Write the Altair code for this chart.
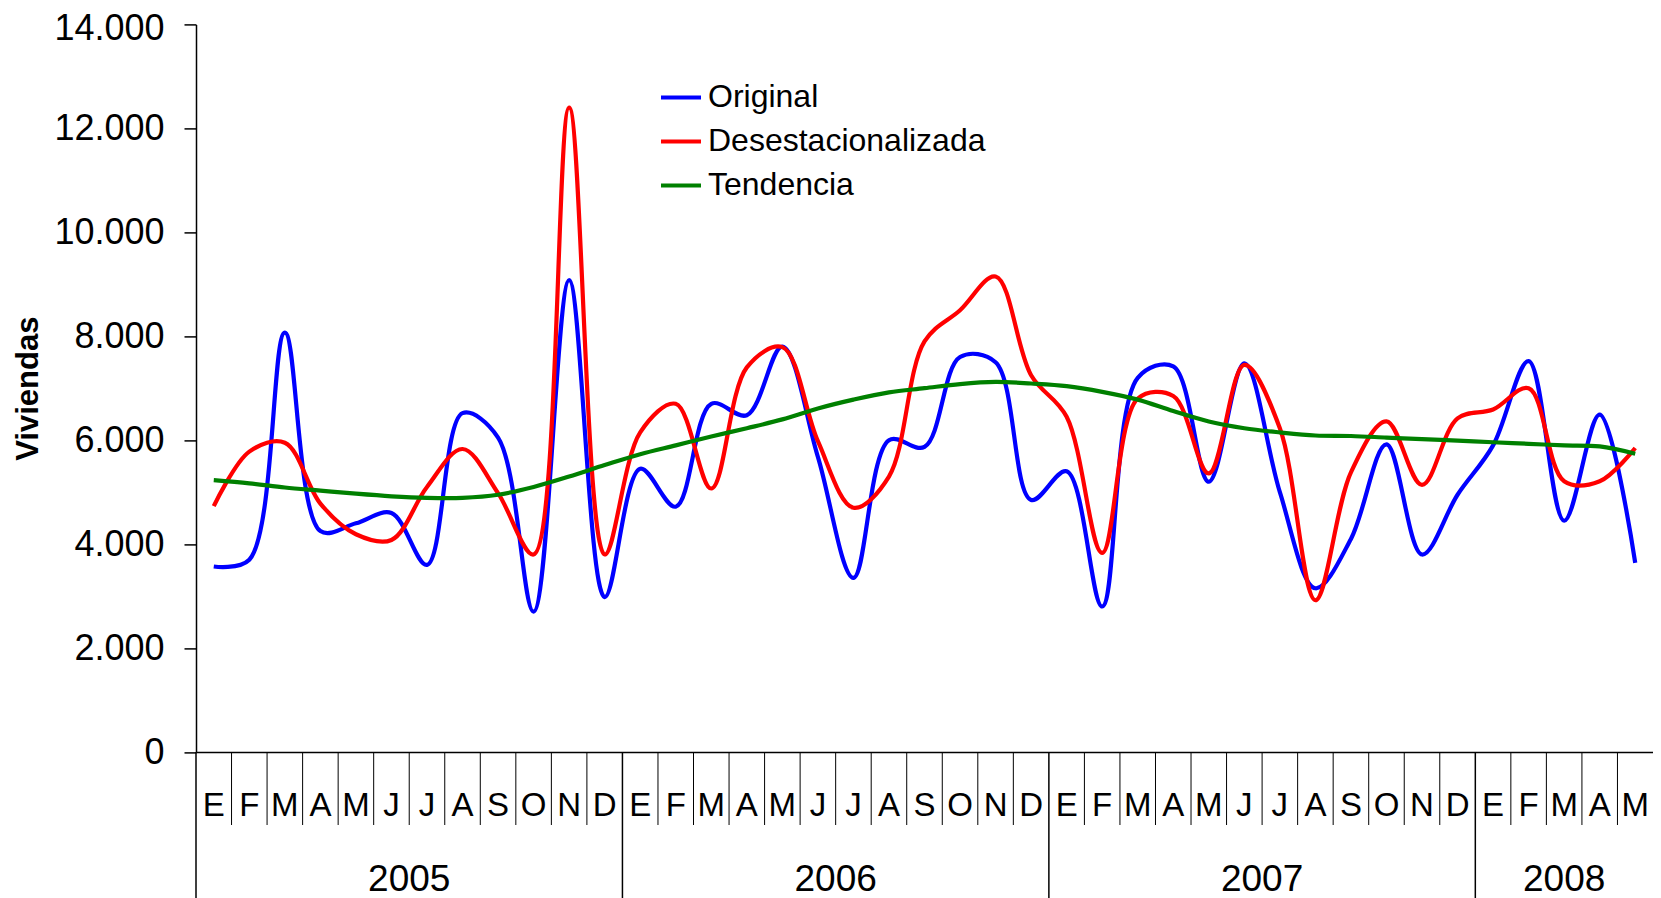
import altair as alt
import pandas as pd

# ---- data ----
months = ['E', 'F', 'M', 'A', 'M', 'J', 'J', 'A', 'S', 'O', 'N', 'D'] * 3 + ['E', 'F', 'M', 'A', 'M']
years = ['2005', '2006', '2007', '2008']
year_start = [0, 12, 24, 36]
year_end = [12, 24, 36, 41]

series_names = ['Original', 'Desestacionalizada', 'Tendencia']
series_colors = ['#0000FF', '#FF0000', '#008000']

original = [3570, 3700, 8070, 4250, 4400, 4600, 3600, 6520, 6050, 2700, 9080, 2980,
            5450, 4720, 6700, 6480, 7800, 5680, 3350, 6000, 5870, 7600, 7500, 4850,
            5400, 2800, 7200, 7420, 5200, 7480, 5000, 3150, 4100, 5920, 3800, 4950,
            5900, 7520, 4450, 6490, 3640]
desest = [4730, 5780, 5950, 4780, 4190, 4080, 5100, 5830, 4980, 3800, 12400, 3800,
          6150, 6700, 5070, 7400, 7790, 5980, 4700, 5300, 7900, 8500, 9150, 7250,
          6450, 3830, 6800, 6850, 5360, 7450, 6230, 2920, 5380, 6360, 5140, 6420,
          6590, 7000, 5210, 5210, 5850]
tendencia = [5230, 5170, 5090, 5030, 4970, 4920, 4890, 4890, 4950, 5100, 5300, 5520,
             5730, 5900, 6070, 6230, 6400, 6610, 6780, 6920, 7000, 7080, 7120, 7090,
             7040, 6930, 6780, 6560, 6360, 6230, 6150, 6090, 6080, 6050, 6020, 5990,
             5960, 5930, 5900, 5880, 5740]

y_ticks = [0, 2000, 4000, 6000, 8000, 10000, 12000, 14000]

# ---- tables ----
n = len(months)
rows = []
for name, vals in zip(series_names, [original, desest, tendencia]):
    for i, v in enumerate(vals):
        rows.append({'pos': i + 0.5, 'serie': name, 'valor': v})
line_df = pd.DataFrame(rows)

month_df = pd.DataFrame({'pos': [i + 0.5 for i in range(n)], 'label': months})
msep_df = pd.DataFrame({'pos': [k for k in range(1, n) if k not in year_start]})
ysep_df = pd.DataFrame({'pos': year_start})
year_df = pd.DataFrame({'pos': [(a + b) / 2 for a, b in zip(year_start, year_end)], 'label': years})

# ---- layout ----
W = 1457
H = 727.6
BOTTOM = 154
FONT = 'Liberation Sans, Arial, sans-serif'

x_scale = alt.Scale(domain=[0, n], nice=False, zero=False)
x_axis = alt.Axis(labels=False, ticks=False, grid=False, domainColor='black',
                  domainWidth=1.5, title=None)
y_axis = alt.Axis(values=y_ticks,
                  labelExpr="replace(format(datum.value, ','), ',', '.')",
                  labelFont=FONT, labelFontSize=36, labelColor='black', labelPadding=20,
                  labelOffset={'condition': {'test': 'datum.value == 14000', 'value': 4},
                               'value': 0},
                  tickSize=12, tickColor='black', tickWidth=1.5,
                  domainColor='black', domainWidth=1.5, grid=False,
                  title='Viviendas', titleFont=FONT, titleFontSize=31,
                  titleFontWeight='bold', titleColor='black',
                  titleX=-168, titleY=H / 2, titleAngle=270,
                  titleAlign='center', titleBaseline='middle')
legend = alt.Legend(orient='none', legendX=463, legendY=51, title=None,
                    symbolType='stroke', symbolSize=1600, symbolStrokeWidth=4,
                    labelFont=FONT, labelFontSize=32, labelColor='black',
                    labelOffset=5, rowPadding=6, padding=0, labelLimit=600,
                    direction='vertical')
color_scale = alt.Scale(domain=series_names, range=series_colors)

X = alt.X('pos:Q', scale=x_scale, axis=x_axis)

lines = []
for s in series_names:
    lines.append(
        alt.Chart(line_df)
        .transform_filter(alt.datum.serie == s)
        .mark_line(interpolate='catmull-rom', strokeWidth=4.2)
        .encode(x=X,
                y=alt.Y('valor:Q', scale=alt.Scale(domain=[0, 14000], nice=False), axis=y_axis),
                color=alt.Color('serie:N', scale=color_scale, legend=legend))
    )

month_rules = alt.Chart(msep_df).mark_rule(color='black', strokeWidth=1).encode(
    x=X, y=alt.value(H), y2=alt.value(H + 73))
year_rules = alt.Chart(ysep_df).mark_rule(color='black', strokeWidth=1.5).encode(
    x=X, y=alt.value(H), y2=alt.value(H + BOTTOM))
month_text = alt.Chart(month_df).mark_text(font=FONT, fontSize=33, color='black',
                                           baseline='middle', align='center').encode(
    x=X, y=alt.value(781.8), text='label:N')
year_text = alt.Chart(year_df).mark_text(font=FONT, fontSize=37, color='black',
                                         baseline='middle', align='center').encode(
    x=X, y=alt.value(855.3), text='label:N')

chart = alt.layer(*lines, month_rules, year_rules, month_text, year_text).properties(
    width=W, height=H,
    padding={'left': 188, 'top': 16.4, 'right': 0, 'bottom': BOTTOM},
    autosize=alt.AutoSizeParams(type='none'),
).configure_view(stroke=None)

chart.save("out.html", embed_options={"renderer": "svg", "actions": False})
